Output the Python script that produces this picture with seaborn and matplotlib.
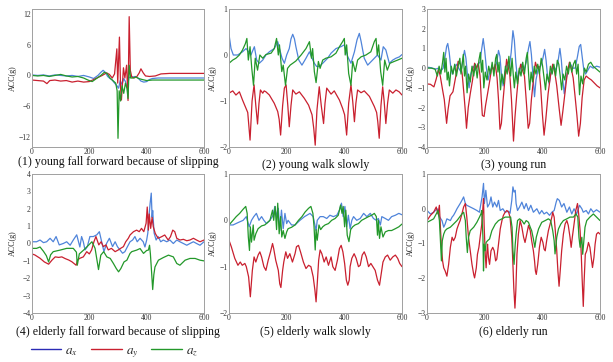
import matplotlib
matplotlib.use("Agg")
import matplotlib.pyplot as plt
import pandas as pd
import seaborn as sns
from matplotlib.lines import Line2D

# (sample index, acceleration in g)
P1_BLUE = [(0, 0.1), (20, 0.0), (40, 0.1), (60, -0.1), (80, 0.1), (100, 0.0), (120, -0.1), (140, 0.0),
           (160, -0.2), (180, 0.0), (200, -0.3), (215, -0.6), (230, 0.0), (240, 0.6), (248, 1.0),
           (256, 0.6), (264, -0.2), (272, -0.6), (280, -0.9), (288, -1.5), (296, -2.0), (302, -2.5),
           (308, -1.0), (314, -1.8), (320, -0.6), (326, -1.2), (332, -2.4), (338, -0.5), (344, -0.2),
           (352, -0.3), (360, -0.2), (370, -0.5), (380, -1.1), (390, -1.3), (400, -1.2), (410, -0.8),
           (420, -0.6), (440, -0.5), (480, -0.5), (520, -0.5), (560, -0.5), (600, -0.5)]
P1_RED = [(0, -0.9), (20, -1.0), (40, -1.1), (52, -1.6), (62, -1.0), (80, -0.9), (100, -1.1), (120, -1.0),
          (140, -1.3), (160, -1.1), (180, -1.3), (200, -1.2), (215, -0.8), (230, -0.4), (245, 0.0),
          (260, 0.5), (270, 0.2), (280, -0.5), (288, 0.3), (296, 5.2), (299, -1.5), (305, 7.5),
          (309, -2.5), (312, -4.8), (319, 1.5), (324, -0.5), (330, 2.0), (335, -4.9), (339, 11.5),
          (343, 1.0), (348, -0.3), (356, -0.5), (366, -0.2), (374, 0.5), (380, 1.3), (388, 0.5),
          (396, -0.1), (410, -0.2), (430, -0.1), (450, 0.3), (480, 0.4), (520, 0.4), (560, 0.4), (600, 0.4)]
P1_GREEN = [(0, 0.0), (20, -0.1), (40, 0.0), (60, -0.2), (80, 0.0), (100, 0.2), (120, -0.1), (140, -0.3),
            (160, -0.2), (180, -0.5), (195, -0.9), (210, -1.2), (225, -0.6), (240, 0.0), (252, 0.6),
            (262, 0.4), (272, -0.5), (282, -1.0), (292, -1.5), (297, -3.0), (300, -12.3), (304, -3.0),
            (309, -5.0), (314, -2.0), (320, -3.5), (326, -1.5), (331, -2.5), (335, -4.5), (339, 2.0),
            (344, -0.5), (352, -0.5), (362, -0.3), (372, -0.6), (385, -0.8), (400, -1.0), (420, -0.9),
            (460, -0.9), (500, -0.9), (550, -0.9), (600, -0.9)]

P2_BLUE = [(0, 0.45), (7, 0.14), (15, 0.0), (30, 0.0), (47, 0.07), (59, 0.14), (68, 0.07), (76, 0.0),
           (88, 0.18), (96, -0.11), (105, -0.18), (117, -0.11), (128, 0.0), (140, 0.07), (157, 0.14),
           (169, 0.29), (175, 0.14), (184, -0.07), (192, -0.18), (200, 0.0), (209, 0.14), (215, 0.35),
           (221, 0.45), (227, 0.35), (232, 0.18), (242, -0.11), (253, -0.22), (267, -0.07), (279, 0.07),
           (288, -0.07), (296, -0.18), (304, -0.25), (313, -0.25), (325, -0.18), (342, -0.07),
           (354, 0.04), (371, 0.14), (388, 0.18), (400, 0.22), (412, -0.04), (423, -0.18), (435, 0.07),
           (444, 0.33), (452, 0.47), (458, 0.3), (469, -0.07), (481, -0.22), (498, -0.11), (515, 0.0),
           (527, -0.11), (535, 0.18), (544, 0.11), (556, -0.18), (568, -0.11), (579, -0.07),
           (591, -0.04), (600, 0.01)]
P2_RED = [(0, -0.83), (13, -0.78), (24, -0.87), (36, -0.8), (47, -0.98), (59, -1.16), (65, -1.25),
          (73, -1.85), (80, -1.0), (87, -0.65), (93, -1.1), (99, -1.5), (104, -1.05), (109, -0.76),
          (117, -0.83), (122, -0.78), (128, -0.8), (140, -0.87), (157, -1.05), (169, -1.23), (174, -1.4),
          (179, -1.74), (186, -1.1), (192, -0.72), (198, -0.65), (204, -1.1), (209, -1.56), (215, -1.1),
          (221, -0.76), (232, -0.85), (244, -0.8), (261, -0.94), (276, -1.09), (288, -1.3), (294, -1.6),
          (299, -1.96), (305, -1.2), (313, -0.69), (320, -1.1), (328, -1.49), (333, -1.05),
          (339, -0.72), (354, -0.85), (365, -0.78), (383, -0.98), (394, -1.16), (401, -1.3),
          (408, -1.74), (415, -1.05), (423, -0.65), (429, -1.0), (435, -1.45), (440, -1.05),
          (446, -0.76), (458, -0.82), (469, -0.78), (487, -0.9), (504, -1.12), (512, -1.25),
          (516, -1.45), (521, -1.81), (527, -1.1), (533, -0.69), (538, -1.0), (544, -1.49),
          (550, -1.05), (556, -0.76), (568, -0.83), (579, -0.76), (590, -0.8), (600, -0.87)]
P2_GREEN = [(0, -0.18), (13, -0.11), (24, -0.07), (36, 0.0), (47, 0.11), (57, 0.25), (62, 0.36),
            (67, -0.11), (73, 0.18), (79, -0.29), (85, -0.66), (91, -0.07), (99, -0.33), (107, 0.0),
            (117, -0.07), (128, 0.01), (146, 0.04), (157, 0.14), (165, 0.36), (171, 0.0), (175, 0.22),
            (183, -0.36), (188, -0.22), (196, -0.66), (203, -0.29), (212, -0.22), (221, -0.18),
            (232, -0.13), (250, 0.0), (267, 0.14), (279, 0.29), (286, -0.07), (290, 0.14), (296, -0.36),
            (302, -0.6), (310, -0.14), (316, -0.29), (325, -0.11), (336, -0.07), (354, -0.04),
            (371, 0.04), (383, 0.18), (394, 0.29), (400, 0.36), (403, 0.0), (408, 0.22), (415, -0.4),
            (423, -0.66), (429, -0.14), (438, -0.36), (446, -0.11), (458, -0.04), (475, 0.0),
            (492, 0.07), (504, 0.29), (510, 0.36), (514, 0.0), (519, 0.22), (526, -0.36), (533, -0.66),
            (540, -0.11), (549, -0.33), (558, -0.18), (573, -0.14), (585, -0.11), (600, -0.07)]

P3_BLUE = [(0, 0.05), (15, 0.02), (30, -0.05), (40, 0.0), (48, -0.15), (56, 0.0), (62, 0.5), (68, 1.1),
           (72, 1.25), (77, 0.8), (82, 0.1), (88, -0.3), (95, 0.0), (102, 0.2), (110, 0.0), (118, -0.2),
           (124, 0.4), (130, 0.9), (135, 0.5), (140, -0.3), (146, -1.0), (152, -0.3), (160, 0.1),
           (168, -0.1), (176, 0.2), (184, 0.3), (190, 1.0), (195, 1.5), (200, 0.9), (206, 0.0),
           (212, -0.6), (218, -0.2), (226, 0.1), (234, -0.1), (242, 0.3), (248, 0.9), (253, 0.6),
           (258, -0.3), (264, -0.9), (270, -0.2), (278, 0.3), (285, 0.0), (292, 0.8), (298, 1.9),
           (303, 1.4), (308, 0.3), (314, -0.6), (320, -0.2), (328, 0.2), (336, -0.1), (344, 0.3),
           (352, 1.0), (357, 1.35), (362, 0.7), (368, -0.5), (373, -1.45), (378, -0.6), (386, 0.0),
           (394, 0.1), (402, 0.5), (408, 0.95), (413, 0.4), (418, -0.4), (424, -0.8), (430, -0.2),
           (438, 0.1), (446, -0.1), (454, 0.3), (461, 1.0), (466, 0.4), (471, -0.6), (476, -1.3),
           (482, -0.6), (490, 0.0), (498, 0.2), (506, 0.0), (514, 0.0), (522, 0.6), (528, 1.1),
           (533, 1.2), (538, 0.6), (544, -0.1), (550, -0.3), (558, -0.1), (566, 0.1), (576, 0.0),
           (588, 0.1), (600, 0.05)]
P3_RED = [(0, -0.8), (12, -0.82), (24, -0.95), (32, -0.55), (40, -0.05), (46, -0.4), (54, -1.1),
          (60, -1.6), (64, -2.2), (68, -2.8), (73, -2.1), (80, -1.4), (90, -1.2), (100, -0.4), (108, 0.35),
          (116, 0.2), (122, -0.3), (128, -1.3), (133, -2.2), (137, -3.05), (143, -2.0), (150, -1.3),
          (158, -0.6), (165, 0.25), (172, 0.0), (178, 0.25), (184, -0.4), (188, -1.5), (192, -2.4),
          (198, -2.45), (203, -1.9), (210, -1.3), (218, -0.6), (225, 0.1), (231, -0.1), (237, 0.2),
          (243, -0.5), (248, -1.6), (253, -3.1), (258, -2.8), (264, -1.6), (270, -0.6), (276, 0.45),
          (281, 0.1), (287, -0.3), (293, -1.6), (300, -3.7), (305, -2.5), (311, -1.4), (318, -0.3),
          (325, 0.2), (331, -0.1), (338, -0.4), (344, -1.6), (351, -3.05), (356, -2.8), (362, -1.6),
          (369, -0.6), (376, 0.3), (382, 0.0), (388, 0.1), (394, -0.9), (400, -2.3), (406, -3.4),
          (412, -2.6), (420, -1.3), (428, -0.4), (436, 0.2), (443, -0.2), (450, -0.9), (458, -2.0),
          (465, -2.9), (471, -2.2), (479, -1.2), (487, -0.2), (494, 0.3), (500, 0.0), (507, -0.5),
          (514, -1.5), (520, -2.4), (526, -3.45), (532, -2.8), (538, -1.5), (545, -0.6), (552, -0.4),
          (560, -0.5), (570, -0.6), (580, -0.75), (590, -0.9), (600, -1.0)]
P3_GREEN = [(0, 0.0), (15, 0.0), (28, -0.05), (36, -0.4), (42, 0.1), (48, -0.3), (54, 0.3), (58, 0.8),
            (62, -0.2), (66, 0.5), (70, -0.6), (74, -0.2), (78, -0.9), (84, 0.1), (90, -0.3), (96, 0.2),
            (102, -0.4), (108, 0.1), (114, 0.5), (118, -0.3), (122, 0.2), (126, 0.7), (130, -0.4),
            (134, 0.1), (139, -1.25), (144, -0.3), (150, -0.7), (156, 0.1), (162, -0.4), (168, 0.2),
            (174, -0.5), (180, 0.4), (185, 0.8), (189, -0.2), (193, 0.4), (197, -1.0), (202, -0.2),
            (208, -0.6), (214, 0.1), (220, -0.3), (226, 0.3), (232, -0.4), (238, 0.5), (242, 0.7),
            (246, -0.2), (250, 0.3), (255, -1.1), (260, -0.3), (266, -0.8), (272, 0.1), (278, -0.3),
            (284, 0.6), (290, -0.4), (295, 0.5), (299, -0.3), (303, -1.0), (308, -0.2), (314, -0.8),
            (320, 0.0), (326, -0.4), (332, 0.3), (338, -0.3), (344, 0.5), (348, 0.8), (352, -0.2),
            (356, -1.1), (361, -0.2), (366, -0.7), (372, 0.1), (378, -0.3), (384, 0.2), (390, -0.3),
            (396, 0.5), (401, 0.1), (406, -0.5), (411, -1.1), (416, -0.3), (422, -0.7), (428, 0.1),
            (434, -0.3), (440, 0.2), (446, -0.4), (452, 0.4), (457, 0.2), (462, -0.4), (467, -1.1),
            (472, -0.3), (478, -0.6), (484, 0.1), (490, -0.3), (496, 0.3), (502, -0.2), (508, 0.2),
            (514, 0.4), (519, -0.3), (524, 0.2), (529, -1.35), (534, -0.4), (540, -0.8), (546, 0.0),
            (552, -0.2), (560, 0.2), (568, 0.3), (576, 0.1), (584, 0.0), (592, -0.1), (600, -0.2)]

P4_BLUE = [(0, 0.1), (16, 0.1), (28, 0.2), (40, 0.05), (51, 0.1), (63, 0.3), (74, 0.1), (84, 0.4),
           (95, -0.08), (109, 0.0), (121, 0.1), (133, -0.1), (144, 0.2), (156, 0.5), (167, -0.2),
           (173, 0.4), (179, 0.1), (185, -0.37), (193, -0.18), (202, 0.4), (214, 0.4), (226, 0.5),
           (235, 0.68), (243, 0.1), (251, -0.47), (260, 0.0), (270, 0.3), (281, -0.18), (290, 0.1),
           (298, -0.18), (307, -0.37), (316, -0.56), (324, -0.47), (333, -0.18), (342, 0.1), (351, 0.2),
           (359, 0.4), (367, 0.1), (377, 0.3), (388, 0.1), (394, -0.2), (400, 0.2), (404, 0.6),
           (407, 1.35), (412, 2.3), (416, 2.9), (419, 1.5), (421, 1.9), (426, 0.6), (433, 0.2),
           (440, 0.4), (449, 0.1), (458, 0.2), (470, 0.1), (481, 0.2), (493, 0.0), (505, 0.2),
           (516, 0.1), (528, 0.0), (540, -0.1), (551, 0.0), (563, 0.1), (574, 0.0), (586, -0.1),
           (600, 0.1)]
P4_RED = [(0, -0.6), (10, -0.66), (28, -0.85), (43, -1.06), (58, -1.19), (70, -0.95), (81, -0.77),
          (93, -0.8), (104, -0.77), (116, -0.87), (128, -0.95), (139, -1.05), (154, -1.25), (159, -0.95),
          (167, -0.85), (179, -0.77), (191, -0.47), (200, -0.6), (208, -0.37), (216, 0.1), (223, 0.4),
          (233, -0.08), (241, 0.1), (249, -0.18), (258, -0.08), (266, -0.37), (277, -0.28),
          (290, -0.47), (301, -0.37), (309, -0.28), (319, -0.18), (327, 0.1), (336, 0.3), (342, 0.49),
          (354, 0.68), (365, 0.77), (374, 0.68), (382, 0.87), (390, 0.68), (398, 1.16), (402, 2.1),
          (406, 0.77), (409, 1.7), (414, 0.87), (419, 1.5), (423, 0.97), (430, 0.58), (440, 0.3),
          (452, 0.39), (463, 0.49), (475, 0.2), (483, 0.39), (491, 0.77), (498, 0.68), (505, 0.3),
          (516, 0.2), (528, 0.24), (540, 0.16), (551, 0.2), (563, 0.3), (574, 0.2), (586, 0.1),
          (600, 0.2)]
P4_GREEN = [(0, -0.28), (16, -0.28), (28, -0.2), (40, -0.45), (50, -0.7), (58, -1.06), (65, -0.65),
            (74, -0.47), (98, -0.38), (121, -0.28), (144, -0.28), (155, -0.5), (158, -1.25), (165, -0.6),
            (180, -0.38), (197, -0.1), (209, 0.1), (220, -0.28), (232, -1.5), (240, -0.67), (250, -0.47),
            (261, -0.77), (273, -0.86), (284, -1.15), (294, -1.44), (302, -1.63), (310, -1.44),
            (321, -1.06), (331, -0.96), (342, -0.57), (348, -0.47), (365, -0.38), (377, -0.29),
            (389, -0.57), (400, -0.4), (406, -0.38), (410, -0.1), (413, -0.6), (417, -1.6), (421, -2.65),
            (425, -1.8), (429, -1.35), (441, -0.96), (458, -0.81), (476, -0.67), (493, -0.77),
            (505, -1.15), (516, -1.25), (534, -0.96), (551, -0.86), (569, -0.86), (586, -0.96),
            (600, -1.0)]

P5_BLUE = [(0, -0.1), (14, -0.1), (31, -0.05), (49, 0.0), (60, 0.08), (70, -0.14), (78, 0.0), (86, 0.08),
           (95, 0.15), (104, 0.0), (113, 0.08), (121, 0.0), (130, -0.07), (142, 0.0), (153, 0.11),
           (159, 0.3), (165, 0.08), (171, 0.26), (176, -0.22), (182, 0.22), (188, -0.18), (194, 0.15),
           (200, -0.07), (205, 0.0), (217, -0.1), (229, -0.1), (246, 0.0), (262, 0.08), (281, 0.15),
           (292, 0.08), (302, -0.22), (306, 0.0), (316, 0.08), (327, 0.08), (339, 0.04), (350, 0.11),
           (362, 0.08), (374, 0.11), (383, 0.22), (390, 0.37), (396, 0.08), (402, 0.3), (408, -0.14),
           (414, 0.11), (420, -0.18), (426, 0.0), (432, 0.08), (443, 0.0), (455, 0.04), (467, 0.15),
           (478, 0.08), (490, 0.15), (501, 0.04), (511, 0.0), (518, 0.04), (525, -0.1), (530, 0.08),
           (542, 0.04), (553, 0.0), (564, 0.08), (577, 0.11), (589, 0.15), (600, 0.12)]
P5_RED = [(0, -0.43), (8, -0.57), (20, -0.82), (31, -0.97), (39, -0.9), (46, -0.97), (55, -0.93),
          (60, -1.0), (68, -1.22), (74, -1.65), (81, -1.08), (87, -0.79), (93, -0.9), (101, -0.75),
          (107, -0.68), (113, -0.79), (121, -1.0), (128, -1.08), (136, -0.86), (144, -0.68), (151, -0.5),
          (155, -0.61), (162, -0.86), (171, -1.08), (176, -1.37), (180, -1.45), (186, -1.08), (190, -0.9),
          (197, -0.68), (203, -0.82), (211, -0.72), (220, -0.9), (229, -0.72), (234, -0.57),
          (241, -0.54), (248, -0.68), (258, -0.9), (267, -1.04), (276, -0.97), (284, -1.0),
          (292, -1.22), (298, -1.51), (302, -1.76), (306, -1.37), (311, -0.86), (316, -0.64),
          (322, -0.72), (330, -0.9), (337, -0.79), (345, -0.97), (354, -0.79), (360, -1.0),
          (368, -1.08), (376, -0.86), (383, -0.61), (389, -0.54), (395, -0.68), (401, -0.93),
          (407, -1.29), (412, -1.4), (417, -1.29), (420, -1.0), (426, -0.82), (434, -0.72),
          (441, -0.82), (449, -1.0), (455, -0.97), (462, -0.75), (469, -0.68), (476, -0.79),
          (484, -1.0), (492, -0.93), (499, -1.0), (507, -1.08), (515, -1.29), (522, -1.4),
          (528, -1.15), (534, -0.9), (542, -0.79), (550, -0.75), (559, -0.86), (568, -0.79),
          (577, -0.75), (585, -0.82), (592, -0.93), (600, -1.0)]
P5_GREEN = [(0, -0.1), (14, 0.0), (25, 0.08), (37, 0.15), (49, 0.24), (58, 0.3), (63, 0.15), (67, -0.36),
            (71, -0.65), (74, -0.14), (78, -0.47), (84, -0.1), (87, -0.43), (93, -0.29), (101, -0.18),
            (113, -0.12), (124, -0.1), (142, 0.0), (151, 0.22), (155, 0.0), (160, 0.3), (165, -0.2),
            (169, 0.37), (174, -0.29), (179, 0.08), (183, -0.36), (188, -0.22), (194, -0.39),
            (200, -0.25), (205, -0.18), (217, -0.15), (229, -0.1), (241, 0.0), (253, 0.08), (264, 0.18),
            (276, 0.26), (284, 0.3), (291, 0.15), (295, -0.14), (299, -0.64), (302, -0.2), (306, -0.43),
            (312, -0.1), (318, -0.2), (325, -0.14), (333, -0.1), (345, -0.07), (356, 0.0), (368, 0.04),
            (379, 0.11), (387, 0.33), (392, 0.15), (396, 0.3), (401, -0.14), (405, 0.22), (410, -0.32),
            (416, -0.46), (422, -0.2), (429, -0.14), (437, -0.1), (449, -0.07), (460, 0.0), (472, 0.04),
            (484, 0.08), (495, 0.11), (504, 0.15), (511, 0.08), (515, -0.32), (518, 0.0), (522, -0.39),
            (527, -0.14), (534, -0.36), (542, -0.25), (553, -0.22), (564, -0.22), (577, -0.18),
            (589, -0.14), (600, -0.08)]

P6_BLUE = [(0, -0.05), (12, -0.15), (23, -0.1), (35, 0.0), (44, -0.24), (52, -0.34), (58, -0.53),
           (63, -0.44), (69, -0.29), (81, -0.34), (87, -0.24), (92, -0.19), (98, -0.1), (104, 0.0),
           (115, 0.15), (121, 0.24), (127, 0.34), (133, 0.15), (138, 0.1), (150, 0.05), (162, 0.0),
           (173, -0.05), (182, -0.1), (187, 0.15), (191, 0.34), (196, 0.73), (199, 0.15), (204, 0.53),
           (210, 0.05), (217, 0.15), (222, 0.34), (228, 0.05), (234, 0.19), (242, 0.05), (248, 0.24),
           (254, -0.05), (263, 0.0), (271, -0.1), (283, -0.07), (288, -0.13), (294, 0.24), (298, 0.63),
           (302, 0.48), (306, 0.53), (309, 0.15), (314, -0.05), (321, 0.05), (329, 0.19), (337, 0.0),
           (344, 0.15), (352, -0.05), (360, 0.1), (369, -0.1), (381, 0.0), (390, -0.15), (398, -0.05),
           (406, -0.15), (415, -0.1), (425, -0.19), (433, -0.1), (441, -0.05), (448, 0.19), (452, 0.29),
           (459, 0.24), (467, 0.05), (475, 0.15), (485, -0.1), (494, 0.05), (502, -0.15), (510, 0.0),
           (519, -0.15), (529, 0.1), (537, 0.0), (542, -0.1), (552, -0.05), (560, -0.15), (568, 0.0),
           (577, -0.1), (588, -0.03), (600, -0.1)]
P6_RED = [(0, -0.34), (12, -0.19), (23, -0.1), (32, 0.05), (38, -0.15), (43, 0.1), (46, -0.44), (50, -1.11),
          (54, -1.5), (58, -1.7), (63, -1.79), (69, -1.94), (75, -1.6), (81, -1.11), (87, -0.82),
          (92, -0.92), (98, -0.82), (104, -0.58), (110, -0.44), (115, -0.34), (121, -0.15), (127, 0.05),
          (133, 0.15), (138, -0.24), (144, -0.82), (150, -1.21), (156, -1.6), (162, -1.89), (165, -1.99),
          (171, -1.7), (175, -1.31), (180, -1.11), (185, -0.77), (190, -0.44), (194, 0.05), (196, 0.29),
          (198, -0.44), (202, -1.31), (205, -1.7), (208, -1.21), (210, -1.02), (213, -1.4), (217, -1.6),
          (222, -1.21), (228, -1.11), (233, -1.21), (238, -1.5), (242, -1.45), (248, -1.02),
          (254, -0.58), (260, -0.34), (265, -0.19), (271, -0.1), (277, -0.05), (283, -0.1), (288, -0.24),
          (294, -0.82), (298, -1.6), (301, -2.28), (305, -2.86), (308, -2.37), (312, -1.31), (317, -0.73),
          (323, -0.34), (329, -0.53), (335, -0.82), (340, -0.97), (346, -0.73), (352, -0.48),
          (358, -0.63), (363, -0.92), (369, -1.21), (373, -1.5), (376, -1.79), (379, -1.89), (384, -1.6),
          (390, -1.11), (396, -0.82), (402, -0.97), (406, -1.16), (410, -1.21), (415, -0.92),
          (421, -0.63), (427, -0.44), (433, -0.24), (436, -0.1), (441, -0.24), (445, -0.63),
          (450, -1.21), (454, -1.79), (458, -2.23), (462, -1.79), (467, -1.21), (473, -0.73),
          (479, -0.44), (485, -0.34), (490, -0.48), (496, -0.82), (500, -1.11), (504, -0.82),
          (510, -0.44), (516, -0.05), (522, 0.15), (526, -0.15), (531, -0.63), (535, -1.31), (538, -2.0),
          (542, -2.81), (545, -2.08), (549, -1.31), (554, -1.21), (560, -0.97), (565, -1.11), (571, -1.5),
          (574, -1.69), (579, -1.4), (583, -1.02), (588, -0.73), (594, -0.68), (600, -0.73)]
P6_GREEN = [(0, -0.39), (12, -0.34), (23, -0.29), (32, -0.15), (38, -0.05), (43, -0.34), (46, -0.82),
            (50, -1.5), (53, -0.92), (58, -0.73), (63, -0.63), (69, -0.58), (81, -0.53), (92, -0.44),
            (104, -0.34), (113, -0.24), (121, -0.15), (127, -0.1), (133, -0.34), (136, -0.82),
            (140, -1.26), (144, -0.82), (150, -0.63), (162, -0.53), (173, -0.39), (182, -0.24),
            (187, -0.15), (190, -0.05), (194, -0.82), (196, -1.79), (198, -1.02), (202, -1.21),
            (205, -0.97), (210, -0.92), (217, -0.87), (225, -0.63), (237, -0.44), (248, -0.34),
            (260, -0.29), (271, -0.24), (283, -0.24), (290, -0.24), (295, -0.53), (298, -1.21),
            (302, -1.6), (306, -1.02), (309, -0.73), (314, -0.34), (321, -0.29), (329, -0.34),
            (337, -0.44), (344, -0.34), (352, -0.39), (358, -0.53), (363, -0.63), (369, -0.87),
            (374, -1.11), (379, -0.82), (387, -0.58), (398, -0.39), (410, -0.34), (421, -0.29),
            (429, -0.34), (436, -0.63), (441, -0.92), (444, -1.3), (450, -0.82), (456, -0.58),
            (464, -0.44), (473, -0.34), (485, -0.29), (496, -0.24), (508, -0.24), (517, -0.15),
            (523, -0.24), (527, -0.82), (531, -1.11), (537, -0.82), (540, -1.31), (545, -0.82),
            (548, -0.53), (554, -0.34), (565, -0.24), (577, -0.15), (588, -0.24), (600, -0.34)]

TITLES = ["(1) young fall forward because of slipping", "(2) young walk slowly", "(3) young run",
          "(4) elderly fall forward because of slipping", "(5) elderly walk slowly", "(6) elderly run"]
Y_LIMITS = [(-14, 13), (-2, 1), (-4, 3), (-4, 4), (-2, 1), (-3, 1)]
Y_TICKS = [[-12, -6, 0, 6, 12], [-2, -1, 0, 1], [-4, -3, -2, -1, 0, 1, 2, 3],
           [-4, -3, -2, -1, 0, 1, 2, 3, 4], [-2, -1, 0, 1], [-3, -2, -1, 0, 1]]
X_TICKS = [0, 200, 400, 600]
SERIES = [(P1_BLUE, P1_RED, P1_GREEN), (P2_BLUE, P2_RED, P2_GREEN), (P3_BLUE, P3_RED, P3_GREEN),
          (P4_BLUE, P4_RED, P4_GREEN), (P5_BLUE, P5_RED, P5_GREEN), (P6_BLUE, P6_RED, P6_GREEN)]

COLORS = ["#4f84da", "#c9202f", "#23982a"]
LEGEND_COLORS = ["#2b2bb5", "#c9202f", "#23982a"]
LEGEND_LABELS = ["$a_x$", "$a_y$", "$a_z$"]

sns.set_style("white")
plt.rcParams["font.family"] = ["Liberation Serif", "DejaVu Serif"]
plt.rcParams["mathtext.fontset"] = "stix"

W, H = 613, 362
fig = plt.figure(figsize=(W / 100, H / 100), dpi=100)

# panel boxes in pixels: left, top, width, height
boxes = [(32, 9, 172, 138), (229, 9, 173, 138), (427, 9, 173, 138),
         (32, 174, 172, 139), (229, 174, 173, 139), (427, 174, 173, 139)]
title_y = [162, 165, 165, 332, 332, 332]
label_off = [15, 12, 12, 15, 12, 12]

for i, (left, top, w, h) in enumerate(boxes):
    ax = fig.add_axes([left / W, 1 - (top + h) / H, w / W, h / H])
    for pts, col in zip(SERIES[i], COLORS):
        df = pd.DataFrame(pts, columns=["t", "acc"])
        sns.lineplot(data=df, x="t", y="acc", ax=ax, color=col, linewidth=0.9,
                     estimator=None, sort=False)
    ax.set_xlim(0, 600)
    ax.set_ylim(*Y_LIMITS[i])
    ax.set_xticks(X_TICKS)
    ax.set_yticks(Y_TICKS[i])
    ax.tick_params(length=0, pad=1.0, labelsize=5.5, colors="#333333")
    ax.set_xlabel("")
    ax.set_ylabel("ACC(g)", fontsize=5.8, color="#222222")
    ax.yaxis.set_label_coords(-label_off[i] / w, 0.5)
    for sp in ax.spines.values():
        sp.set_color("#a0a0a0")
        sp.set_linewidth(0.7)
    fig.text((left + w / 2) / W, 1 - title_y[i] / H, TITLES[i], ha="center", va="center",
             fontsize=8.6, color="#111111")

handles = [Line2D([], [], color=c, linewidth=1.0) for c in LEGEND_COLORS]
fig.legend(handles, LEGEND_LABELS, loc="center left", bbox_to_anchor=(31 / W, 1 - 352 / H),
           ncol=3, frameon=False, fontsize=9.5, handlelength=2.3, handletextpad=0.3,
           columnspacing=1.0, borderaxespad=0, borderpad=0)

fig.savefig("out.png", dpi=100)
